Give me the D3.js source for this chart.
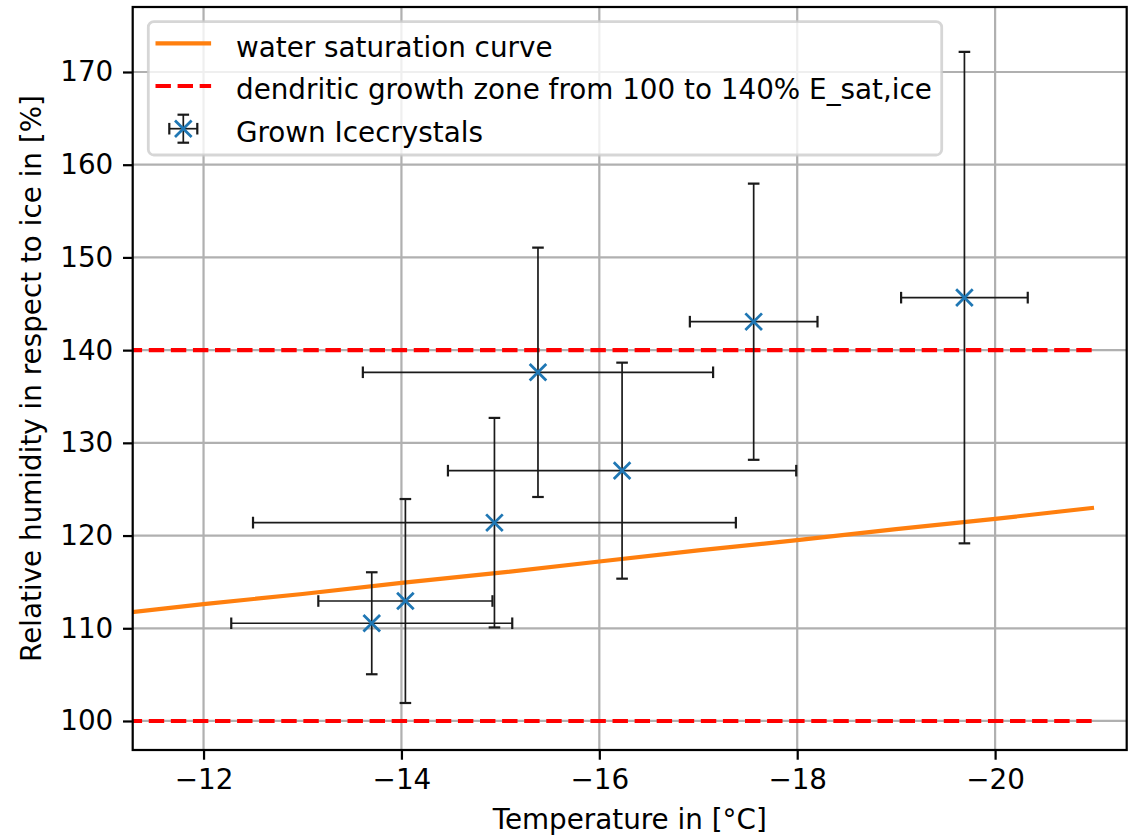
<!DOCTYPE html>
<html>
<head>
<meta charset="utf-8">
<script src="https://cdn.jsdelivr.net/npm/d3@7"></script>
<style>
  html, body { margin: 0; padding: 0; background: #fff; }
  svg { display: block; }
  text { font-family: "DejaVu Sans", sans-serif; fill: #000; }
</style>
</head>
<body>
<svg id="chart" width="1132" height="836"></svg>
<script>
// Grown ice crystals: growth temperature and relative humidity w.r.t. ice, with uncertainties
const temps    = [-13.70, -14.04, -14.94, -15.38, -16.23, -17.56, -19.69];
const tempErr  = [1.42, 0.88, 2.44, 1.77, 1.76, 0.645, 0.64];
const humidity = [110.54, 112.94, 121.39, 137.61, 127.0, 143.07, 145.66];
const humErr   = [5.5, 11.0, 11.3, 13.45, 11.65, 14.9, 26.5];

// Water saturation expressed as humidity relative to ice
const waterTemps = [-11, -12, -13, -14, -15, -16, -17, -18, -19, -20, -21];
const waterRH    = [111.4, 112.6, 113.7, 114.9, 116.0, 117.2, 118.4, 119.5, 120.7, 121.8, 123.0];

// Dendritic growth zone bounds (% of E_sat,ice)
const zoneBounds = [100, 140];
const zoneTemps  = [-11, -21];

const xTicks = [-12, -14, -16, -18, -20];
const yTicks = [100, 110, 120, 130, 140, 150, 160, 170];

const legendLabels = [
  "water saturation curve",
  "dendritic growth zone from 100 to 140% E_sat,ice",
  "Grown Icecrystals"
];

(function draw() {
  const FS = 27.8;           // 10 pt at 200 dpi
  const PT = 200 / 72;       // px per point
  const pL = 132.7, pR = 1126.7, pT = 7, pB = 750;

  const svg = d3.select("#chart");
  const x = d3.scaleLinear().domain([-11.284, -21.33]).range([pL, pR]);
  const y = d3.scaleLinear().domain([96.87, 177.01]).range([pB, pT]);

  svg.append("defs").append("clipPath").attr("id", "plotclip")
    .append("rect").attr("x", pL).attr("y", pT)
    .attr("width", pR - pL).attr("height", pB - pT);

  // grid
  const grid = svg.append("g").attr("stroke", "#b0b0b0").attr("stroke-width", 0.8 * PT);
  grid.selectAll(".gx").data(xTicks).join("line").attr("class", "gx")
    .attr("x1", d => x(d)).attr("x2", d => x(d)).attr("y1", pT).attr("y2", pB);
  grid.selectAll(".gy").data(yTicks).join("line").attr("class", "gy")
    .attr("x1", pL).attr("x2", pR).attr("y1", d => y(d)).attr("y2", d => y(d));

  const plot = svg.append("g").attr("clip-path", "url(#plotclip)");

  // water saturation curve
  plot.append("path")
    .datum(waterTemps.map((t, i) => [t, waterRH[i]]))
    .attr("fill", "none").attr("stroke", "#ff7f0e").attr("stroke-width", 1.5 * PT)
    .attr("d", d3.line().x(d => x(d[0])).y(d => y(d[1])));

  // dendritic growth zone bounds
  const dash = `${3.7 * 1.5 * PT},${1.6 * 1.5 * PT}`;
  plot.selectAll(".zone").data(zoneBounds).join("line").attr("class", "zone")
    .attr("x1", x(zoneTemps[0])).attr("x2", x(zoneTemps[1]))
    .attr("y1", d => y(d)).attr("y2", d => y(d))
    .attr("stroke", "#ff0000").attr("stroke-width", 1.5 * PT)
    .attr("stroke-dasharray", dash);

  // error bars
  const capHalf = 5.8;
  const ebColor = "#1a1a1a", ebWidth = 1.7;
  const eb = plot.append("g").attr("stroke", ebColor).attr("stroke-width", ebWidth);
  temps.forEach((t, i) => {
    const cx = x(t), cy = y(humidity[i]);
    const x0 = x(t + tempErr[i]), x1 = x(t - tempErr[i]);
    const y0 = y(humidity[i] - humErr[i]), y1 = y(humidity[i] + humErr[i]);
    eb.append("line").attr("x1", x0).attr("x2", x1).attr("y1", cy).attr("y2", cy);
    eb.append("line").attr("x1", cx).attr("x2", cx).attr("y1", y0).attr("y2", y1);
    [x0, x1].forEach(px => eb.append("line").attr("x1", px).attr("x2", px)
      .attr("y1", cy - capHalf).attr("y2", cy + capHalf).attr("stroke-width", 2.2));
    [y0, y1].forEach(py => eb.append("line").attr("y1", py).attr("y2", py)
      .attr("x1", cx - capHalf).attr("x2", cx + capHalf).attr("stroke-width", 2.2));
  });

  // x markers
  const mk = 8.3;
  function xMarker(g, cx, cy) {
    g.append("path")
      .attr("d", `M${cx - mk},${cy - mk}L${cx + mk},${cy + mk}M${cx - mk},${cy + mk}L${cx + mk},${cy - mk}`)
      .attr("stroke", "#1f77b4").attr("stroke-width", 1.0 * PT).attr("fill", "none");
  }
  temps.forEach((t, i) => xMarker(plot, x(t), y(humidity[i])));

  // axes
  const xAxis = d3.axisBottom(x).tickValues(xTicks).tickSize(3.5 * PT).tickPadding(3.5 * PT)
    .tickFormat(d => "\u2212" + Math.abs(d));
  const gx = svg.append("g").attr("transform", `translate(0,${pB})`).call(xAxis);
  const yAxis = d3.axisLeft(y).tickValues(yTicks).tickSize(3.5 * PT).tickPadding(3.5 * PT);
  const gy = svg.append("g").attr("transform", `translate(${pL},0)`).call(yAxis);
  [gx, gy].forEach(g => {
    g.select(".domain").remove();
    g.selectAll(".tick line").attr("stroke", "#000").attr("stroke-width", 0.8 * PT);
    g.selectAll(".tick text").attr("font-size", FS).attr("font-family", "DejaVu Sans").attr("fill", "#000");
  });

  // frame
  svg.append("rect").attr("x", pL).attr("y", pT)
    .attr("width", pR - pL).attr("height", pB - pT)
    .attr("fill", "none").attr("stroke", "#000").attr("stroke-width", 0.8 * PT);

  // axis labels
  svg.append("text").attr("x", (pL + pR) / 2).attr("y", 829)
    .attr("text-anchor", "middle").attr("font-size", FS).text("Temperature in [°C]");
  svg.append("text").attr("transform", `translate(41,${(pT + pB) / 2}) rotate(-90)`)
    .attr("text-anchor", "middle").attr("font-size", FS)
    .text("Relative humidity in respect to ice in [%]");

  // legend
  const lg = svg.append("g");
  lg.append("rect").attr("x", 148.3).attr("y", 21.7).attr("width", 941.7 - 148.3).attr("height", 155 - 21.7)
    .attr("rx", 5.6).attr("ry", 5.6)
    .attr("fill", "#fff").attr("fill-opacity", 0.8).attr("stroke", "#cccccc").attr("stroke-width", 1.0 * PT)
    .attr("stroke-opacity", 0.8);
  const rowY = legendLabels.map((_, i) => 43.3 + 42.7 * i);
  const hx0 = 155.5, hx1 = 211.1, hxc = (hx0 + hx1) / 2;
  lg.append("line").attr("x1", hx0).attr("x2", hx1).attr("y1", rowY[0]).attr("y2", rowY[0])
    .attr("stroke", "#ff7f0e").attr("stroke-width", 1.5 * PT);
  lg.append("line").attr("x1", hx0).attr("x2", hx1).attr("y1", rowY[1]).attr("y2", rowY[1])
    .attr("stroke", "#ff0000").attr("stroke-width", 1.5 * PT)
    .attr("stroke-dasharray", dash);
  {
    const cy = rowY[2];
    const lge = lg.append("g").attr("stroke", ebColor).attr("stroke-width", ebWidth);
    lge.append("line").attr("x1", hxc - 14).attr("x2", hxc + 14).attr("y1", cy).attr("y2", cy);
    lge.append("line").attr("x1", hxc).attr("x2", hxc).attr("y1", cy - 14).attr("y2", cy + 14);
    [hxc - 14, hxc + 14].forEach(px => lge.append("line").attr("x1", px).attr("x2", px)
      .attr("y1", cy - capHalf).attr("y2", cy + capHalf).attr("stroke-width", 2.2));
    [cy - 14, cy + 14].forEach(py => lge.append("line").attr("y1", py).attr("y2", py)
      .attr("x1", hxc - capHalf).attr("x2", hxc + capHalf).attr("stroke-width", 2.2));
    xMarker(lg, hxc, cy);
  }
  lg.selectAll(".lt").data(legendLabels).join("text").attr("class", "lt")
    .attr("x", 236).attr("y", (d, i) => rowY[i] + 13.3)
    .attr("font-size", FS).text(d => d);
})();
</script>
</body>
</html>
